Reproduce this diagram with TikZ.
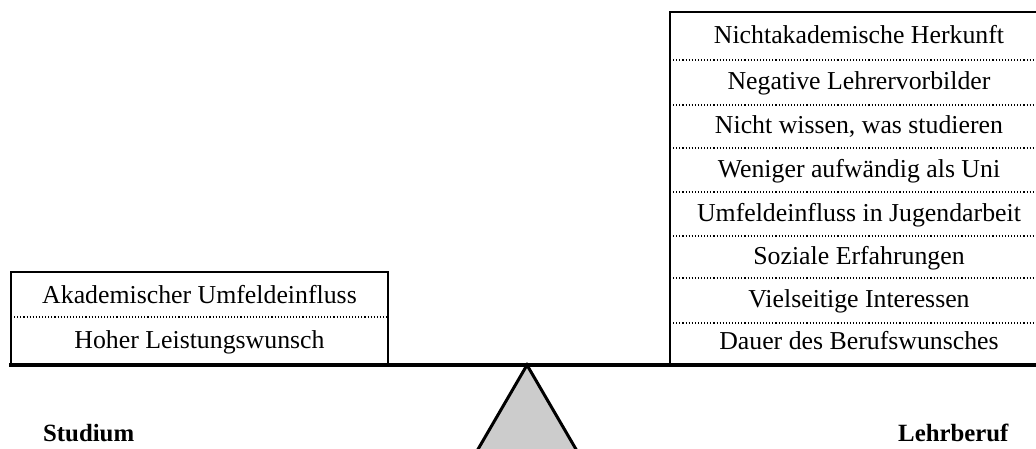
\documentclass[tikz,border=0pt]{standalone}
\usepackage{fontspec}
\setmainfont{Liberation Serif}
\begin{document}
\begin{tikzpicture}[x=1pt,y=-1pt,
  factor/.style={anchor=base,inner sep=0pt,font=\fontsize{25.8}{30}\selectfont},
  side/.style={anchor=base west,inner sep=0pt,font=\fontsize{24.8}{29}\selectfont\bfseries},
  boxline/.style={line width=1.6pt},
  sep/.style={line width=1.1pt,dash pattern=on 1.1pt off 2pt},
  beam/.style={line width=3.4pt},
  pivot/.style={line width=3pt,fill=black!20,line join=miter}]
\useasboundingbox (0,0) rectangle (1036,448);

% fulcrum
\draw[pivot] (527,365) -- (470,463) -- (584,463) -- cycle;

% left pan: two factors
\draw[boxline] (11,365) -- (11,272) -- (388,272) -- (388,365);
\draw[sep] (11,317) -- (388,317);
\node[factor] (l1) at (199.5,303.5) {Akademischer Umfeldeinfluss};
\node[factor] (l2) at (199.5,348.5) {Hoher Leistungswunsch};

% right pan: eight factors
\draw[boxline] (670,365) -- (670,12) -- (1050,12) -- (1050,365);
\foreach \y in {60,105,148,192,236,278,323}
  \draw[sep] (670,\y) -- (1050,\y);
\node[factor] (r1) at (859,43.5) {Nichtakademische Herkunft};
\node[factor] (r2) at (859,89.5) {Negative Lehrervorbilder};
\node[factor] (r3) at (859,133.5) {Nicht wissen, was studieren};
\node[factor] (r4) at (859,177.5) {Weniger aufwändig als Uni};
\node[factor] (r5) at (859,221.5) {Umfeldeinfluss in Jugendarbeit};
\node[factor] (r6) at (859,264.5) {Soziale Erfahrungen};
\node[factor] (r7) at (859,307.5) {Vielseitige Interessen};
\node[factor] (r8) at (859,349) {Dauer des Berufswunsches};

% beam
\draw[beam] (9,365) -- (1040,365);

% ends of the scale
\node[side] (s) at (43,441.5) {Studium};
\node[side] (b) at (898,441.5) {Lehrberuf};
\end{tikzpicture}
\end{document}
